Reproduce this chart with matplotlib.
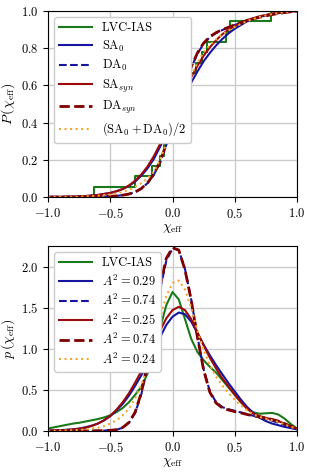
import numpy as np
import matplotlib
matplotlib.use('Agg')
import matplotlib.pyplot as plt
import matplotlib as mpl

settings = {"font.family": "serif",
            "font.serif": ["cmr10"],
            "mathtext.fontset": "cm",
            "axes.formatter.use_mathtext": True,
            "xtick.labelsize": 9,
            "ytick.labelsize": 9,
            "font.size": 10,
            "legend.fontsize": 9,
            }
mpl.rcParams.update(settings)

# colours
c_lvc = '#1a7a1a'
c_sa = '#1515a0'
c_syn = '#9a0a0a'
c_dsyn = '#800000'
c_avg = '#f0a830'

# ---- top panel: cumulative distributions ----
x_cdf = [-1.0, -0.9, -0.8, -0.7, -0.6, -0.5, -0.45, -0.4, -0.35, -0.3, -0.25, -0.2, -0.15,
         -0.1, -0.05, 0.0, 0.05, 0.1, 0.15, 0.2, 0.25, 0.3, 0.35, 0.4, 0.45, 0.5, 0.6, 0.7,
         0.8, 0.9, 1.0]
cdf_sa0 = [0, 0.001, 0.002, 0.005, 0.011, 0.022, 0.031, 0.043, 0.06, 0.083, 0.115, 0.155, 0.205,
           0.27, 0.34, 0.41, 0.48, 0.55, 0.615, 0.675, 0.73, 0.775, 0.815, 0.85, 0.88, 0.905,
           0.945, 0.97, 0.985, 0.994, 1.0]
cdf_da0 = [0, 0, 0, 0.001, 0.002, 0.004, 0.006, 0.01, 0.016, 0.026, 0.045, 0.075, 0.12,
           0.185, 0.28, 0.385, 0.495, 0.6, 0.695, 0.77, 0.825, 0.86, 0.882, 0.898, 0.912, 0.925,
           0.948, 0.968, 0.983, 0.993, 1.0]
cdf_sasyn = [0, 0.001, 0.002, 0.005, 0.011, 0.022, 0.031, 0.043, 0.062, 0.088, 0.122, 0.165, 0.22,
             0.285, 0.355, 0.43, 0.505, 0.58, 0.645, 0.705, 0.76, 0.805, 0.843, 0.875, 0.9, 0.92,
             0.952, 0.972, 0.986, 0.995, 1.0]
cdf_dasyn = [0, 0, 0, 0.001, 0.002, 0.004, 0.006, 0.01, 0.016, 0.027, 0.046, 0.077, 0.123,
             0.19, 0.285, 0.39, 0.5, 0.605, 0.7, 0.775, 0.828, 0.862, 0.884, 0.9, 0.913, 0.926,
             0.949, 0.967, 0.981, 0.992, 1.0]
cdf_avg = [0, 0.001, 0.001, 0.003, 0.007, 0.013, 0.019, 0.027, 0.039, 0.055, 0.075, 0.1, 0.135,
           0.2, 0.29, 0.39, 0.485, 0.575, 0.655, 0.722, 0.778, 0.818, 0.848, 0.874, 0.896, 0.915,
           0.946, 0.969, 0.984, 0.994, 1.0]

# LVC-IAS empirical CDF (step positions and levels)
x_lvc = [-1.0, -0.63, -0.30, -0.165, -0.098, -0.07, -0.055, -0.045, 0.02, 0.035, 0.05, 0.075,
         0.10, 0.19, 0.24, 0.28, 0.43, 0.46, 0.79, 1.0]
P_lvc = [0.0, 0.0556, 0.1111, 0.1667, 0.2222, 0.2778, 0.3333, 0.3889, 0.4444, 0.5, 0.5556,
         0.6111, 0.6667, 0.7222, 0.7778, 0.8333, 0.8889, 0.9444, 1.0, 1.0]

# ---- bottom panel: densities ----
x_pdf = [-1.0, -0.95, -0.9, -0.85, -0.8, -0.75, -0.7, -0.65, -0.6, -0.55, -0.5, -0.45, -0.4,
         -0.35, -0.3, -0.25, -0.2, -0.15, -0.1, -0.05, 0.0, 0.05, 0.1, 0.15, 0.2, 0.25, 0.3,
         0.35, 0.4, 0.45, 0.5, 0.55, 0.6, 0.65, 0.7, 0.75, 0.8, 0.85, 0.9, 0.95, 1.0]
pdf_lvc = [0.03, 0.045, 0.06, 0.075, 0.09, 0.10, 0.115, 0.13, 0.145, 0.165, 0.19, 0.23, 0.28,
           0.35, 0.44, 0.54, 0.7, 0.95, 1.25, 1.53, 1.69, 1.6, 1.36, 1.12, 0.96, 0.86, 0.78,
           0.71, 0.62, 0.53, 0.44, 0.35, 0.27, 0.225, 0.21, 0.215, 0.22, 0.2, 0.15, 0.085, 0.03]
pdf_sa0 = [0.005, 0.007, 0.01, 0.015, 0.02, 0.03, 0.045, 0.065, 0.09, 0.13, 0.18, 0.25, 0.33,
           0.43, 0.55, 0.68, 0.82, 0.98, 1.14, 1.29, 1.39, 1.44, 1.42, 1.33, 1.19, 1.05, 0.92,
           0.8, 0.69, 0.58, 0.48, 0.38, 0.29, 0.22, 0.16, 0.12, 0.09, 0.07, 0.05, 0.035, 0.02]
pdf_da0 = [0, 0, 0, 0, 0, 0, 0.001, 0.002, 0.003, 0.005, 0.008, 0.015, 0.04, 0.1, 0.22, 0.45,
           0.8, 1.25, 1.72, 2.07, 2.22, 2.2, 1.97, 1.6, 1.15, 0.75, 0.48, 0.35, 0.29, 0.265,
           0.245, 0.225, 0.205, 0.185, 0.165, 0.145, 0.125, 0.1, 0.075, 0.045, 0.02]
pdf_sasyn = [0.003, 0.005, 0.008, 0.012, 0.018, 0.027, 0.04, 0.06, 0.09, 0.13, 0.185, 0.26,
             0.35, 0.46, 0.59, 0.73, 0.88, 1.05, 1.22, 1.37, 1.47, 1.51, 1.47, 1.36, 1.2, 1.04,
             0.89, 0.76, 0.64, 0.54, 0.44, 0.35, 0.27, 0.21, 0.18, 0.16, 0.14, 0.12, 0.09,
             0.06, 0.03]
pdf_dasyn = [0, 0, 0, 0, 0, 0, 0.001, 0.002, 0.003, 0.005, 0.008, 0.016, 0.042, 0.105, 0.23,
             0.47, 0.83, 1.29, 1.76, 2.1, 2.23, 2.2, 1.96, 1.59, 1.14, 0.74, 0.47, 0.34, 0.28,
             0.255, 0.235, 0.22, 0.2, 0.185, 0.17, 0.155, 0.14, 0.12, 0.09, 0.055, 0.025]
pdf_avg = [0.002, 0.003, 0.004, 0.006, 0.009, 0.013, 0.019, 0.028, 0.04, 0.06, 0.09, 0.13,
           0.19, 0.27, 0.4, 0.56, 0.78, 1.06, 1.37, 1.64, 1.8, 1.83, 1.72, 1.5, 1.22, 0.98, 0.8,
           0.66, 0.55, 0.46, 0.38, 0.31, 0.25, 0.2, 0.17, 0.15, 0.13, 0.11, 0.08, 0.05, 0.025]

labels_top = ['LVC-IAS', r'SA$_0$', r'DA$_0$', r'SA$_{syn}$', r'DA$_{syn}$',
              r'$(\mathrm{SA}_0+\mathrm{DA}_0)/2$']
labels_bot = ['LVC-IAS', r'$A^2=0.29$', r'$A^2=0.74$', r'$A^2=0.25$', r'$A^2=0.74$',
              r'$A^2=0.24$']

fig = plt.figure(figsize=(3.12, 4.72), dpi=100)
ax1 = fig.add_axes([0.154, 0.5826, 0.798, 0.394])
ax2 = fig.add_axes([0.154, 0.0869, 0.798, 0.392])

ax1.step(x_lvc, P_lvc, where='post', color=c_lvc, lw=1.5, label=labels_top[0])
ax1.plot(x_cdf, cdf_sa0, color=c_sa, lw=1.5, label=labels_top[1])
ax1.plot(x_cdf, cdf_da0, color=c_sa, lw=1.5, ls='--', label=labels_top[2])
ax1.plot(x_cdf, cdf_sasyn, color=c_syn, lw=1.5, label=labels_top[3])
ax1.plot(x_cdf, cdf_dasyn, color=c_dsyn, lw=2, ls='--', label=labels_top[4])
ax1.plot(x_cdf, cdf_avg, color=c_avg, lw=1.5, ls=':', label=labels_top[5])

ax2.plot(x_pdf, pdf_lvc, color=c_lvc, lw=1.5, label=labels_bot[0])
ax2.plot(x_pdf, pdf_sa0, color=c_sa, lw=1.5, label=labels_bot[1])
ax2.plot(x_pdf, pdf_da0, color=c_sa, lw=1.5, ls='--', label=labels_bot[2])
ax2.plot(x_pdf, pdf_sasyn, color=c_syn, lw=1.5, label=labels_bot[3])
ax2.plot(x_pdf, pdf_dasyn, color=c_dsyn, lw=2, ls='--', label=labels_bot[4])
ax2.plot(x_pdf, pdf_avg, color=c_avg, lw=1.5, ls=':', label=labels_bot[5])

for ax in (ax1, ax2):
    ax.set_xlim(-1, 1)
    ax.set_xticks([-1, -0.5, 0, 0.5, 1])
    ax.grid(True, color='#cccccc', lw=1)
    ax.set_axisbelow(True)
    ax.set_xlabel(r'$\chi_{\rm eff}$', labelpad=1)
    ax.legend(loc='upper left', handlelength=2.6, borderpad=0.4, labelspacing=0.35,
              handletextpad=0.8, framealpha=1)

ax1.set_ylim(0, 1)
ax1.set_yticks([0, 0.2, 0.4, 0.6, 0.8, 1.0])
ax1.set_ylabel(r'$P\,(\chi_{\rm eff})$')
ax2.set_ylim(0, 2.25)
ax2.set_yticks([0, 0.5, 1.0, 1.5, 2.0])
ax2.set_ylabel(r'$p\,(\chi_{\rm eff})$')
for ax in (ax1, ax2):
    ax.yaxis.set_label_coords(-0.125, 0.5)

fig.savefig('out.png', dpi=100)
